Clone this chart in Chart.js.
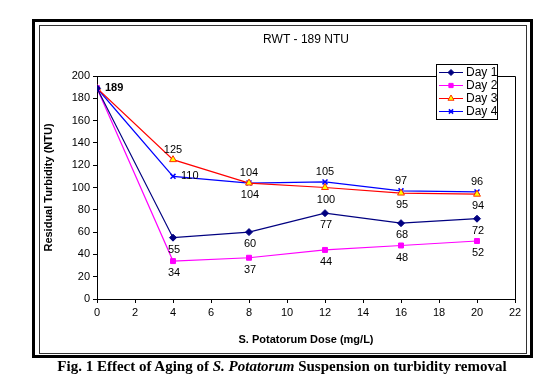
<!DOCTYPE html>
<html>
<head>
<meta charset="utf-8">
<script src="https://cdn.jsdelivr.net/npm/chart.js@4/dist/chart.umd.min.js"></script>
<style>
  body { margin: 0; background: #fff; width: 544px; height: 387px; overflow: hidden; position: relative; }
  #outer { position: absolute; left: 32px; top: 19px; width: 501px; height: 339px; border: 3px solid #000; box-sizing: border-box; }
  #inner { position: absolute; left: 39px; top: 25px; width: 488px; height: 329px; border: 1px solid #333; box-sizing: border-box; }
  #myChart { position: absolute; left: 0; top: 0; }
  #caption { position: absolute; left: 0; width: 564px; top: 358px; text-align: center;
    font: bold 15px "Liberation Serif", "DejaVu Serif", serif; color: #000; }
</style>
</head>
<body>
<div id="outer"></div>
<div id="inner"></div>
<canvas id="myChart" width="544" height="387"></canvas>
<div id="caption">Fig. 1 Effect of Aging of <i>S. Potatorum</i> Suspension on turbidity removal</div>
<script>
// dose values (mg/L) and residual turbidity per day
var doses = [0, 4, 8, 12, 16, 20];
var day1 = [189, 55, 60, 77, 68, 72];
var day2 = [189, 34, 37, 44, 48, 52];
var day3 = [189, 125, 104, 100, 95, 94];
var day4 = [189, 110, 104, 105, 97, 96];
var seriesNames = ["Day 1", "Day 2", "Day 3", "Day 4"];
var chartTitle = "RWT - 189 NTU";

function pts(vals) {
    return doses.map(function(d, i) { return { x: d, y: vals[i] }; });
}

// where each value label goes (null = no label)
var labelPos = [
    [null, "below", "below", "below", "below", "below"],
    [null, "below", "below", "below", "below", "below"],
    [null, "above", "below", "below", "below", "below"],
    ["first", "right", "above", "above", "above", "above"]
];

var font = "Liberation Sans, Arial, sans-serif";

var valueLabels = {
    id: "valueLabels",
    afterDatasetsDraw: function(chart) {
        var ctx = chart.ctx;
        ctx.save();
        ctx.fillStyle = "#000";
        chart.data.datasets.forEach(function(ds, di) {
            var meta = chart.getDatasetMeta(di);
            meta.data.forEach(function(el, i) {
                var pos = labelPos[di][i];
                if (!pos) return;
                var txt = String(ds.data[i].y);
                ctx.font = "11px " + font;
                ctx.textBaseline = "middle";
                ctx.textAlign = "center";
                if (pos === "below") ctx.fillText(txt, el.x + 1, el.y + 12);
                else if (pos === "above") ctx.fillText(txt, el.x, el.y - 10);
                else if (pos === "right") { ctx.textAlign = "left"; ctx.fillText(txt, el.x + 8, el.y); }
                else if (pos === "first") {
                    ctx.font = "bold 11px " + font;
                    ctx.textAlign = "left";
                    ctx.fillText(txt, el.x + 8, el.y);
                }
            });
        });
        ctx.restore();
    }
};

// title centred over the plot area, legend box overlapping the top edge
var titleAndLegend = {
    id: "titleAndLegend",
    afterDraw: function(chart) {
        var ctx = chart.ctx;
        var a = chart.chartArea;
        ctx.save();
        ctx.fillStyle = "#000";
        ctx.font = "12px " + font;
        ctx.textAlign = "center";
        ctx.textBaseline = "middle";
        ctx.fillText(chartTitle, (a.left + a.right) / 2, 40);

        var x0 = 436, y0 = 64, w = 61, h = 55;
        ctx.fillStyle = "#fff";
        ctx.fillRect(x0, y0, w, h);
        ctx.strokeStyle = "#000";
        ctx.lineWidth = 1;
        ctx.strokeRect(x0 + 0.5, y0 + 0.5, w, h);
        chart.data.datasets.forEach(function(ds, i) {
            var cy = y0 + 8.5 + i * 13;
            ctx.strokeStyle = ds.borderColor;
            ctx.lineWidth = 1;
            ctx.beginPath();
            ctx.moveTo(x0 + 3, cy);
            ctx.lineTo(x0 + 27, cy);
            ctx.stroke();
            ctx.fillStyle = ds.pointBackgroundColor;
            ctx.strokeStyle = ds.pointBorderColor;
            ctx.lineWidth = ds.pointBorderWidth;
            Chart.helpers.drawPoint(ctx, {
                pointStyle: ds.pointStyle,
                radius: ds.pointRadius - 0.5,
                borderWidth: ds.pointBorderWidth
            }, x0 + 15, cy);
            ctx.fillStyle = "#000";
            ctx.font = "12px " + font;
            ctx.textBaseline = "middle";
            ctx.textAlign = "left";
            ctx.fillText(seriesNames[i], x0 + 30, cy + 0.5);
        });
        ctx.restore();
    }
};

var ctx = document.getElementById("myChart").getContext("2d");
var chart = new Chart(ctx, {
    type: "scatter",
    data: {
        datasets: [{
            label: seriesNames[0],
            data: pts(day1),
            showLine: true,
            borderColor: "#000080",
            borderWidth: 1.2,
            pointStyle: "rectRot",
            pointRadius: 3.5,
            pointBackgroundColor: "#000080",
            pointBorderColor: "#000080",
            pointBorderWidth: 1
        }, {
            label: seriesNames[1],
            data: pts(day2),
            showLine: true,
            borderColor: "#ff00ff",
            borderWidth: 1.2,
            pointStyle: "rect",
            pointRadius: 3.5,
            pointBackgroundColor: "#ff00ff",
            pointBorderColor: "#ff00ff",
            pointBorderWidth: 1
        }, {
            label: seriesNames[2],
            data: pts(day3),
            showLine: true,
            borderColor: "#ff0000",
            borderWidth: 1.2,
            pointStyle: "triangle",
            pointRadius: 4,
            pointBackgroundColor: "#ffff00",
            pointBorderColor: "#ff3300",
            pointBorderWidth: 1
        }, {
            label: seriesNames[3],
            data: pts(day4),
            showLine: true,
            borderColor: "#0000ff",
            borderWidth: 1.2,
            pointStyle: "crossRot",
            pointRadius: 3.5,
            pointBackgroundColor: "#0000ff",
            pointBorderColor: "#0000ff",
            pointBorderWidth: 1.5
        }]
    },
    options: {
        responsive: false,
        animation: false,
        layout: { padding: { left: 38, right: 29, top: 76, bottom: 36 } },
        plugins: {
            legend: { display: false },
            tooltip: { enabled: false },
            title: { display: false }
        },
        scales: {
            x: {
                type: "linear",
                min: 0,
                max: 22,
                ticks: { stepSize: 2, color: "#000", font: { family: font, size: 11 }, padding: 3 },
                grid: { drawOnChartArea: false, tickLength: 4, color: "#000" },
                border: { color: "#000", width: 1 },
                title: {
                    display: true,
                    text: "S. Potatorum Dose (mg/L)",
                    color: "#000",
                    font: { family: font, size: 11, weight: "bold" },
                    padding: { top: 0, bottom: 4 }
                },
                afterFit: function(s) { s.height = 52; }
            },
            y: {
                min: 0,
                max: 200,
                ticks: { stepSize: 20, color: "#000", font: { family: font, size: 11 }, padding: 3 },
                grid: { drawOnChartArea: false, tickLength: 4, color: "#000" },
                border: { color: "#000", width: 1 },
                title: {
                    display: true,
                    text: "Residual Turbidity (NTU)",
                    color: "#000",
                    font: { family: font, size: 11, weight: "bold" },
                    padding: { top: 4, bottom: 4 }
                },
                afterFit: function(s) { s.width = 59; }
            }
        }
    },
    plugins: [valueLabels, titleAndLegend, {
        id: "plotFrame",
        afterDatasetsDraw: function(c) {
            var a = c.chartArea;
            c.ctx.save();
            c.ctx.strokeStyle = "#000";
            c.ctx.lineWidth = 1;
            c.ctx.beginPath();
            c.ctx.moveTo(a.left, a.top + 0.5);
            c.ctx.lineTo(a.right + 0.5, a.top + 0.5);
            c.ctx.lineTo(a.right + 0.5, a.bottom);
            c.ctx.stroke();
            c.ctx.restore();
        }
    }]
});
</script>
</body>
</html>
